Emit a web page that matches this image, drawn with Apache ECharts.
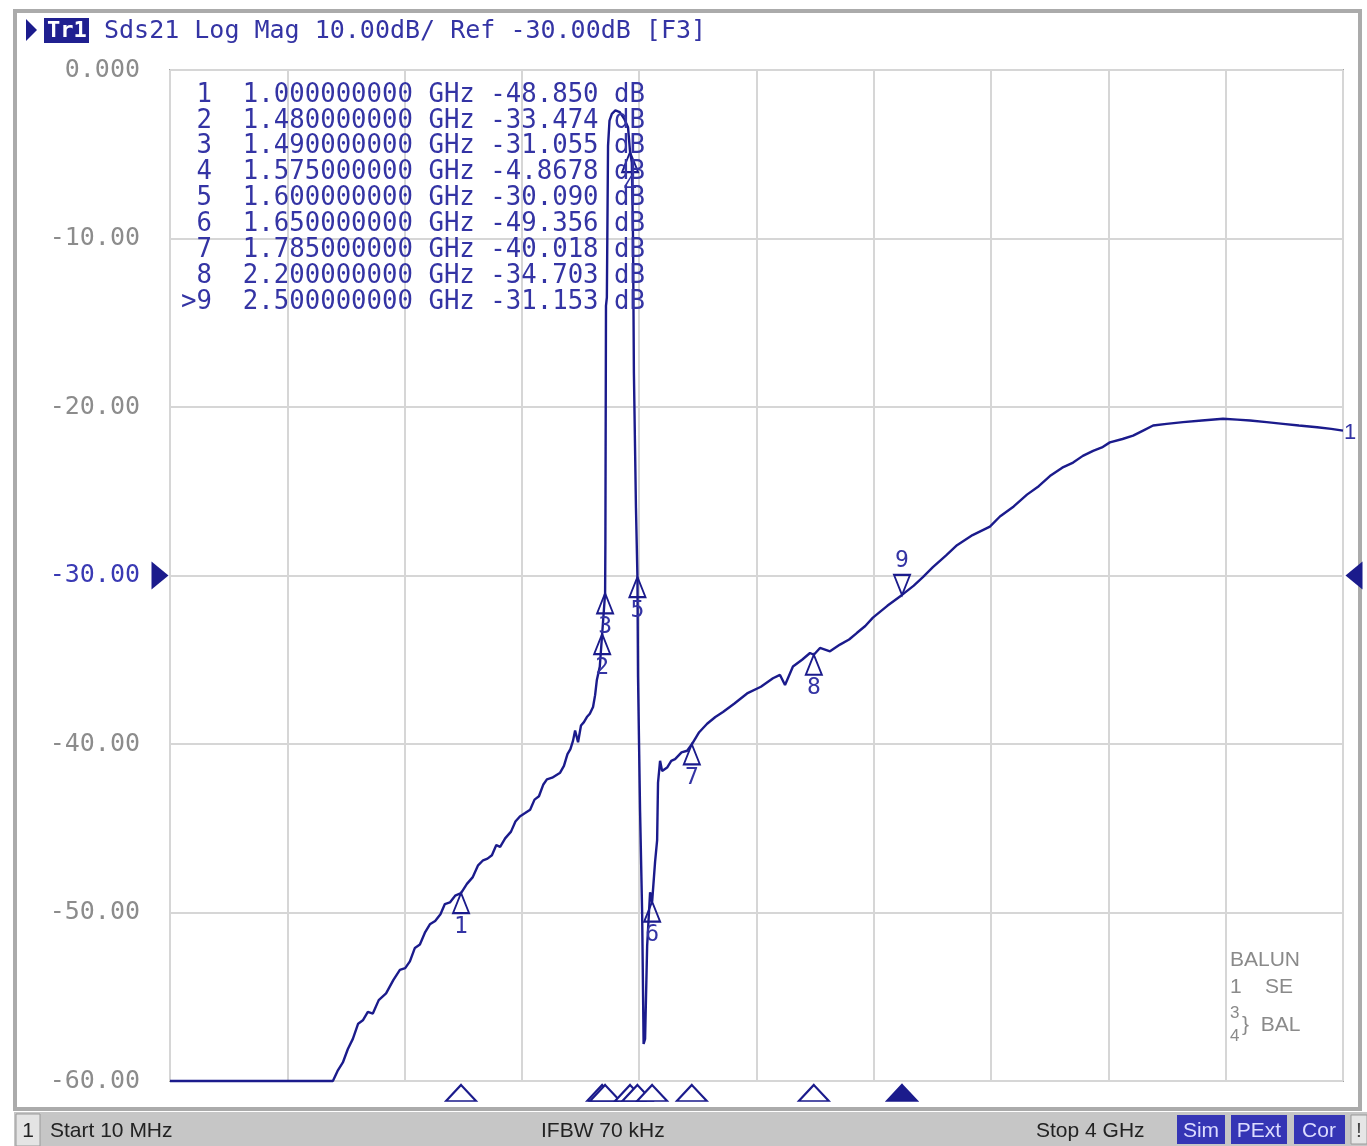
<!DOCTYPE html>
<html>
<head>
<meta charset="utf-8">
<script src="https://cdn.jsdelivr.net/npm/echarts@6/dist/echarts.min.js"></script>
<style>
html,body{margin:0;padding:0;background:#fff;}
#c{width:1367px;height:1146px;}
</style>
</head>
<body>
<div id="c"></div>
<script>
// ---- data ----
const freqGHz = [0.01,0.564,0.580,0.598,0.615,0.632,0.650,0.666,0.683,0.700,0.720,0.745,0.770,0.792,0.810,0.826,0.843,0.860,0.877,0.894,0.912,0.930,0.945,0.962,0.980,1.000,1.020,1.040,1.058,1.075,1.090,1.105,1.120,1.133,1.150,1.170,1.185,1.200,1.218,1.235,1.250,1.265,1.280,1.292,1.310,1.337,1.350,1.362,1.372,1.381,1.388,1.398,1.408,1.418,1.428,1.438,1.449,1.456,1.462,1.472,1.480,1.490,1.491,1.493,1.496,1.500,1.505,1.513,1.525,1.540,1.555,1.568,1.575,1.581,1.585,1.588,1.595,1.600,1.602,1.609,1.616,1.621,1.626,1.633,1.643,1.650,1.660,1.667,1.670,1.677,1.684,1.701,1.715,1.728,1.750,1.769,1.785,1.810,1.837,1.865,1.891,1.930,1.973,2.020,2.061,2.085,2.102,2.129,2.160,2.187,2.200,2.221,2.255,2.289,2.320,2.347,2.375,2.401,2.450,2.500,2.540,2.571,2.605,2.650,2.687,2.740,2.799,2.833,2.880,2.925,2.965,3.003,3.045,3.082,3.115,3.150,3.180,3.207,3.250,3.286,3.320,3.354,3.400,3.456,3.520,3.592,3.640,3.684,3.740,3.796,3.850,3.912,3.960,4.000];
const s21dB   = [-60,-60,-59.4,-58.9,-58.1,-57.5,-56.6,-56.4,-55.9,-56.0,-55.2,-54.8,-54.0,-53.4,-53.3,-52.9,-52.1,-51.9,-51.2,-50.7,-50.5,-50.1,-49.5,-49.4,-49.0,-48.85,-48.3,-47.9,-47.2,-46.9,-46.8,-46.6,-46.0,-46.1,-45.6,-45.2,-44.6,-44.3,-44.1,-43.9,-43.3,-43.1,-42.4,-42.1,-42.0,-41.7,-41.3,-40.6,-40.3,-39.8,-39.2,-39.9,-38.9,-38.7,-38.4,-38.2,-37.8,-37.1,-36.2,-35.4,-33.474,-31.055,-28.0,-14.0,-13.5,-4.5,-3.0,-2.6,-2.4,-2.5,-2.9,-3.4,-4.8678,-5.5,-10.0,-18.0,-26.0,-30.09,-36.0,-44.0,-50.0,-57.8,-57.5,-52.0,-48.8,-49.356,-47.0,-45.7,-42.3,-41.0,-41.6,-41.4,-41.0,-40.9,-40.5,-40.4,-40.018,-39.3,-38.8,-38.4,-38.1,-37.6,-37.0,-36.6,-36.1,-35.9,-36.5,-35.4,-35.0,-34.6,-34.703,-34.3,-34.5,-34.1,-33.8,-33.4,-33.0,-32.5,-31.8,-31.153,-30.6,-30.1,-29.5,-28.8,-28.2,-27.6,-27.1,-26.5,-25.9,-25.2,-24.7,-24.1,-23.6,-23.3,-22.9,-22.6,-22.4,-22.1,-21.9,-21.7,-21.4,-21.1,-21.0,-20.9,-20.8,-20.7,-20.75,-20.8,-20.9,-21.0,-21.1,-21.2,-21.3,-21.4];

const markerNo   = [1,2,3,4,5,6,7,8,9];
const markerFreq = [1.0,1.48,1.49,1.575,1.6,1.65,1.785,2.2,2.5];
const markerDb   = [-48.85,-33.474,-31.055,-4.8678,-30.09,-49.356,-40.018,-34.703,-31.153];
const activeMarker = 9;

const yTicks = [0,-10,-20,-30,-40,-50,-60];
const refLevel = -30;
const startFreq = 0.01, stopFreq = 4.0;

const headerText = 'Sds21 Log Mag 10.00dB/ Ref -30.00dB [F3]';
const statusTexts = ['Start 10 MHz','IFBW 70 kHz','Stop 4 GHz'];
const statusBoxes = ['Sim','PExt','Cor'];

// ---- styles ----
const NAVY = '#1b1b8c';
const TXT = '#3434a4';
const MONO = '"DejaVu Sans Mono", "Liberation Mono", monospace';
const SANS = '"Liberation Sans", "DejaVu Sans", sans-serif';

const traceData = freqGHz.map((f,i)=>[f,s21dB[i]]);

const normalMarkers = [], activeMk = [];
markerNo.forEach((n,i)=>{
  const p = {value:[markerFreq[i], markerDb[i]], name:String(n)};
  if (n===activeMarker) activeMk.push(p); else normalMarkers.push(p);
});
const bottomNormal = normalMarkers.map(m=>({value:[m.value[0], -60]}));
const bottomActive = activeMk.map(m=>({value:[m.value[0], -60]}));

function fmtDb(v){ return v.toPrecision(5); }
const tableLines = markerNo.map((n,i)=>{
  const num = (n===activeMarker?'>':' ') + String(n);
  return num.slice(-2).padStart(2,' ') + '  ' + markerFreq[i].toFixed(9) + ' GHz ' + fmtDb(markerDb[i]).padStart(7,' ') + ' dB';
});

const graphics = [
  // outer window frame
  {type:'rect', shape:{x:15,y:11,width:1345,height:1098}, style:{fill:'none', stroke:'#ababab', lineWidth:4}, z:-10, silent:true},
  // header
  {type:'polygon', shape:{points:[[26,19],[26,41],[37,30]]}, style:{fill:NAVY}},
  {type:'rect', shape:{x:44,y:18,width:45,height:25}, style:{fill:'#202090'}},
  {type:'text', x:47, y:31, style:{text:'Tr1', font:'bold 22px '+MONO, fill:'#ffffff', verticalAlign:'middle'}},
  {type:'text', x:104, y:31, style:{text:headerText, font:'25px '+MONO, fill:TXT, verticalAlign:'middle'}},
  // BALUN legend
  {type:'text', x:1230, y:960, style:{text:'BALUN', font:'21px '+SANS, fill:'#8a8a8a', verticalAlign:'middle'}},
  {type:'text', x:1230, y:987, style:{text:'1    SE', font:'21px '+SANS, fill:'#8a8a8a', verticalAlign:'middle'}},
  {type:'text', x:1230, y:1013, style:{text:'3', font:'17px '+SANS, fill:'#8a8a8a', verticalAlign:'middle'}},
  {type:'text', x:1230, y:1036, style:{text:'4', font:'17px '+SANS, fill:'#8a8a8a', verticalAlign:'middle'}},
  {type:'text', x:1242, y:1025, style:{text:'}  BAL', font:'21px '+SANS, fill:'#8a8a8a', verticalAlign:'middle'}},
  // status bar
  {type:'rect', shape:{x:14,y:1112,width:1353,height:34}, style:{fill:'#c6c6c6'}},
  {type:'rect', shape:{x:16,y:1114,width:24,height:32}, style:{fill:'#e4e4e4', stroke:'#9a9a9a', lineWidth:1}},
  {type:'text', x:28, y:1131, style:{text:'1', font:'21px '+SANS, fill:'#222', align:'center', verticalAlign:'middle'}},
  {type:'text', x:50, y:1131, style:{text:statusTexts[0], font:'21px '+SANS, fill:'#222', verticalAlign:'middle'}},
  {type:'text', x:541, y:1131, style:{text:statusTexts[1], font:'21px '+SANS, fill:'#222', verticalAlign:'middle'}},
  {type:'text', x:1036, y:1131, style:{text:statusTexts[2], font:'21px '+SANS, fill:'#222', verticalAlign:'middle'}},
  {type:'rect', shape:{x:1177,y:1115,width:48,height:29}, style:{fill:'#3535b5'}},
  {type:'text', x:1201, y:1131, style:{text:statusBoxes[0], font:'21px '+SANS, fill:'#dcdcff', align:'center', verticalAlign:'middle'}},
  {type:'rect', shape:{x:1231,y:1115,width:56,height:29}, style:{fill:'#3535b5'}},
  {type:'text', x:1259, y:1131, style:{text:statusBoxes[1], font:'21px '+SANS, fill:'#dcdcff', align:'center', verticalAlign:'middle'}},
  {type:'rect', shape:{x:1294,y:1115,width:51,height:29}, style:{fill:'#3535b5'}},
  {type:'text', x:1319, y:1131, style:{text:statusBoxes[2], font:'21px '+SANS, fill:'#dcdcff', align:'center', verticalAlign:'middle'}},
  {type:'rect', shape:{x:1351,y:1115,width:16,height:29}, style:{fill:'#e6e6e6', stroke:'#9a9a9a', lineWidth:1}},
  {type:'text', x:1359, y:1131, style:{text:'!', font:'21px '+SANS, fill:'#444', align:'center', verticalAlign:'middle'}}
];
// marker table
tableLines.forEach((t,i)=>{
  graphics.push({type:'text', x:181, y:95+i*25.9, z:50, style:{text:t, font:'25.7px '+MONO, fill:TXT, verticalAlign:'middle'}});
});

const chart = echarts.init(document.getElementById('c'), null, {renderer:'canvas'});
chart.setOption({
  backgroundColor:'#ffffff',
  animation:false,
  grid:{left:170, top:70, right:24, bottom:65, show:true, borderColor:'#a4a4a4', borderWidth:2, backgroundColor:'#fff'},
  xAxis:[
    {type:'value', min:startFreq, max:stopFreq, axisLine:{show:false}, axisTick:{show:false}, axisLabel:{show:false}, splitLine:{show:false}},
    {type:'value', min:0, max:10, interval:1, position:'bottom', axisLine:{show:false}, axisTick:{show:false}, axisLabel:{show:false},
     splitLine:{show:true, lineStyle:{color:'#d6d6d6', width:2}}}
  ],
  yAxis:{type:'value', min:-60, max:0, interval:10,
    axisLine:{show:false}, axisTick:{show:false},
    splitLine:{show:true, lineStyle:{color:'#d6d6d6', width:2}},
    axisLabel:{margin:30, fontFamily:MONO, fontSize:25,
      formatter:function(v){ const s = v===0 ? '0.000' : v.toFixed(2); return v===refLevel ? '{r|'+s+'}' : '{g|'+s+'}'; },
      rich:{g:{color:'#8c8c8c', fontFamily:MONO, fontSize:25}, r:{color:'#3a3ab4', fontFamily:MONO, fontSize:25}}
    }
  },
  graphic:graphics,
  series:[
    {type:'line', name:'Sds21', data:traceData, showSymbol:false, clip:false, z:5,
     lineStyle:{color:NAVY, width:2.4}, itemStyle:{color:NAVY},
     endLabel:{show:true, formatter:'1', color:TXT, fontFamily:SANS, fontSize:22, distance:1, offset:[0,2]}},
    {type:'scatter', name:'markers', data:normalMarkers, clip:false, z:6,
     symbol:'triangle', symbolSize:[16,20], symbolOffset:[0,10],
     itemStyle:{color:'rgba(255,255,255,0)', borderColor:NAVY, borderWidth:2, opacity:1},
     label:{show:true, position:'bottom', distance:1, formatter:'{b}', color:TXT, fontFamily:MONO, fontSize:23}},
    {type:'scatter', name:'active', data:activeMk, clip:false, z:6,
     symbol:'triangle', symbolSize:[16,20], symbolRotate:180, symbolOffset:[0,-10],
     itemStyle:{color:'rgba(255,255,255,0)', borderColor:NAVY, borderWidth:2, opacity:1},
     label:{show:true, position:'top', distance:1, formatter:'{b}', color:TXT, fontFamily:MONO, fontSize:23}},
    {type:'scatter', name:'stimulus', data:bottomNormal, clip:false, z:6,
     symbol:'triangle', symbolSize:[30,16], symbolOffset:[0,12],
     itemStyle:{color:'#ffffff', borderColor:NAVY, borderWidth:2, opacity:1}},
    {type:'scatter', name:'stimulusActive', data:bottomActive, clip:false, z:6,
     symbol:'triangle', symbolSize:[30,16], symbolOffset:[0,12],
     itemStyle:{color:NAVY, borderColor:NAVY, borderWidth:2, opacity:1}},
    {type:'scatter', name:'refL', data:[[startFreq, refLevel]], clip:false, z:6,
     symbol:'triangle', symbolSize:[28,17], symbolRotate:-90, symbolOffset:[-10,0], itemStyle:{color:NAVY, opacity:1}},
    {type:'scatter', name:'refR', data:[[stopFreq, refLevel]], clip:false, z:6,
     symbol:'triangle', symbolSize:[28,17], symbolRotate:90, symbolOffset:[11,0], itemStyle:{color:NAVY, opacity:1}}
  ]
});
</script>
</body>
</html>
